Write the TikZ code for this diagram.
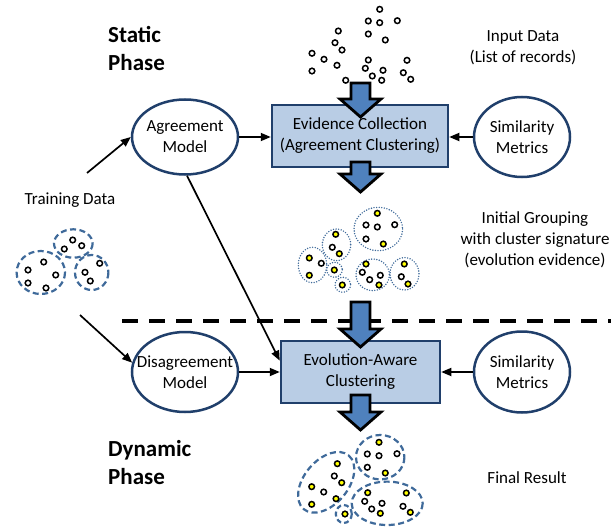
\documentclass[tikz,border=0pt]{standalone}
\usepackage{fontspec}
\setmainfont{Carlito}
\usetikzlibrary{arrows.meta,shapes.geometric}
\definecolor{navy}{HTML}{203F6B}
\definecolor{boxfill}{HTML}{B9CDE5}
\definecolor{arrfill}{HTML}{4F81BD}
\definecolor{clblue}{HTML}{3F6A9A}
\definecolor{dotyel}{HTML}{FFFF00}
\newcommand\txtfont{\fontsize{17}{21}\selectfont}
\newcommand\headfont{\fontsize{23}{28}\selectfont\bfseries}
\newcommand\barrow[3]{\draw[blockarr] (#1-9.5,#2) -- (#1+9.5,#2) -- (#1+9.5,#3-18) -- (#1+20.5,#3-18) -- (#1,#3) -- (#1-20.5,#3-18) -- (#1-9.5,#3-18) -- cycle;}
\begin{document}
\begin{tikzpicture}[x=1pt,y=-1pt,
 ell/.style={ellipse, draw=navy, line width=2.5pt, fill=white, inner sep=0pt},
 lbl/.style={align=center, font=\txtfont, inner sep=0pt},
 head/.style={align=left, font=\headfont, inner sep=0pt, anchor=west},
 box/.style={rectangle, draw=navy, line width=2.5pt, fill=boxfill, align=center, font=\txtfont, inner sep=0pt},
 arr/.style={line width=1.7pt, -{Triangle[length=10pt,width=8pt]}},
 blockarr/.style={draw=black, line width=2.8pt, fill=arrfill, line join=miter},
 wdot/.style={draw=black, line width=1.5pt, fill=white},
 ydot/.style={draw=black, line width=1.5pt, fill=dotyel},
 dotcl/.style={draw=clblue, line width=1.6pt, dash pattern=on 0pt off 2.6pt, line cap=round},
 dashcl/.style={draw=clblue, line width=2.2pt, dash pattern=on 6pt off 3.5pt},
]
\useasboundingbox (0,0) rectangle (611,527);

% headings and labels
\node[head] (static) at (108,48) {Static\\Phase};
\node[head] (dynamic) at (108,463) {Dynamic\\Phase};
\node[lbl] (train) at (70,200) {Training Data};
\node[lbl] (input) at (523,48) {Input Data\\(List of records)};
\node[lbl] (initial) at (535,240) {Initial Grouping\\with cluster signature\\(evolution evidence)};
\node[lbl] (final) at (527,478) {Final Result};

% separator
\draw[line width=4pt, dash pattern=on 16pt off 11pt] (122,321) -- (611,321);

% ellipses
\node[ell, minimum width=106pt, minimum height=75pt] (ag) at (185,137) {};
\node[lbl] (agt) at (ag) {Agreement\\Model};
\node[ell, minimum width=106pt, minimum height=80pt] (dis) at (185,372) {};
\node[lbl] (dist) at (dis) {Disagreement\\Model};
\node[ell, minimum width=96pt, minimum height=80pt] (sim1) at (522,137) {};
\node[lbl] (sim1t) at (sim1) {Similarity\\Metrics};
\node[ell, minimum width=96pt, minimum height=81pt] (sim2) at (522,372) {};
\node[lbl] (sim2t) at (sim2) {Similarity\\Metrics};

% boxes
\node[box, minimum width=176pt, minimum height=62pt] (ev1) at (360,136) {Evidence Collection\\(Agreement Clustering)};
\node[box, minimum width=159pt, minimum height=62pt] (ev2) at (360.5,372) {Evolution-Aware\\Clustering};

% block arrows
\barrow{360.5}{83}{117}
\barrow{360.5}{162}{192}
\barrow{360.5}{302}{347}
\barrow{360.5}{395}{430}

% connectors
\coordinate (t1) at (87,173);
\coordinate (t2) at (80,315);
\draw[arr] (t1) -- (ag.west);
\draw[arr] (t2) -- (dis.170);
\draw[arr] (ag.east) -- (ag.east -| ev1.west);
\draw[arr] (dis.east) -- (dis.east -| ev2.west);
\draw[arr] (sim1.west) -- (sim1.west -| ev1.east);
\draw[arr] (sim2.west) -- (sim2.west -| ev2.east);
\draw[arr] (ag.-87) -- (ev2.172);

% input data dots
\foreach \x/\y in {379.7/9.3, 368.3/21, 379.7/22.7, 397.3/20.7, 338.3/31, 368.3/34, 385.3/40, 335/42.7, 342/50, 312/53.3, 324/59.3, 337/65.3, 368.3/60, 407/60.3, 312/71, 365.3/68.3, 383/70.3, 372.3/76, 381.7/80.3, 403.3/72.7, 410.7/79.3, 345.7/80.3}
  \draw[wdot] (\x,\y) circle[radius=2.8];

% initial grouping
\draw[dotcl] (378.3,229) ellipse[x radius=24.3, y radius=21.7];
\draw[dotcl] (336.5,244.8) ellipse[x radius=14.2, y radius=15.8];
\draw[dotcl] (312.5,265) ellipse[x radius=14.2, y radius=17.7];
\draw[dotcl] (334.5,269.8) ellipse[x radius=7.8, y radius=7.5];
\draw[dotcl] (342.8,284.8) ellipse[x radius=7.8, y radius=7.5];
\draw[dotcl] (372.7,274.8) ellipse[x radius=16.7, y radius=15.8];
\draw[dotcl] (404.5,273.8) ellipse[x radius=14.5, y radius=16.2];
\foreach \x/\y in {366/225, 377.3/227, 394.7/224.7, 366/239, 332.3/247.3, 321.3/263.3, 362.3/272.3, 380.3/275.3, 369.7/279.7, 401.3/276.7}
  \draw[wdot] (\x,\y) circle[radius=2.8];
\foreach \x/\y in {377.3/213.3, 383.3/244, 335.7/234.3, 339.3/253.7, 309.3/258, 309.3/275.3, 334.3/270, 342.3/285, 366/264, 379/285, 404.3/264, 408/284}
  \draw[ydot] (\x,\y) circle[radius=2.8];

% final result
\draw[dashcl] (380.2,457.2) ellipse[x radius=24.2, y radius=22.2];
\draw[dashcl, shift={(326.2,482.3)}, rotate=50] (0,0) ellipse[x radius=35, y radius=22];
\draw[dashcl, dash pattern=on 5pt off 3pt] (343.8,514) ellipse[x radius=8, y radius=9];
\draw[dashcl] (387.2,503.3) ellipse[x radius=35.5, y radius=21.7];
\foreach \x/\y in {367.3/454, 379/455.7, 397/453.7, 367.3/467.3, 334.3/476, 323.7/492, 364.7/501.3, 382/503.3, 371.7/509, 403/506.3}
  \draw[wdot] (\x,\y) circle[radius=2.8];
\foreach \x/\y in {379/442.3, 385.3/473, 337.3/463.7, 341.7/482.7, 311.7/486.7, 336/498.7, 311.7/504.3, 345/514, 367.7/492.7, 380.3/513.3, 406.3/493, 410.3/512.3}
  \draw[ydot] (\x,\y) circle[radius=2.8];

% training data
\draw[dashcl] (73.3,243.5) ellipse[x radius=19.3, y radius=14.2];
\draw[dashcl] (40.8,272.5) ellipse[x radius=24.2, y radius=21.5];
\draw[dashcl] (91.7,272.5) ellipse[x radius=16.7, y radius=17.5];
\foreach \x/\y in {72.7/240, 64.3/249, 81.7/245.7, 43.7/262, 28/270, 55.7/275, 28/283, 46/288, 99.7/263.3, 85/272.3, 90.3/281}
  \draw[wdot] (\x,\y) circle[radius=2.8];
\end{tikzpicture}
\end{document}
